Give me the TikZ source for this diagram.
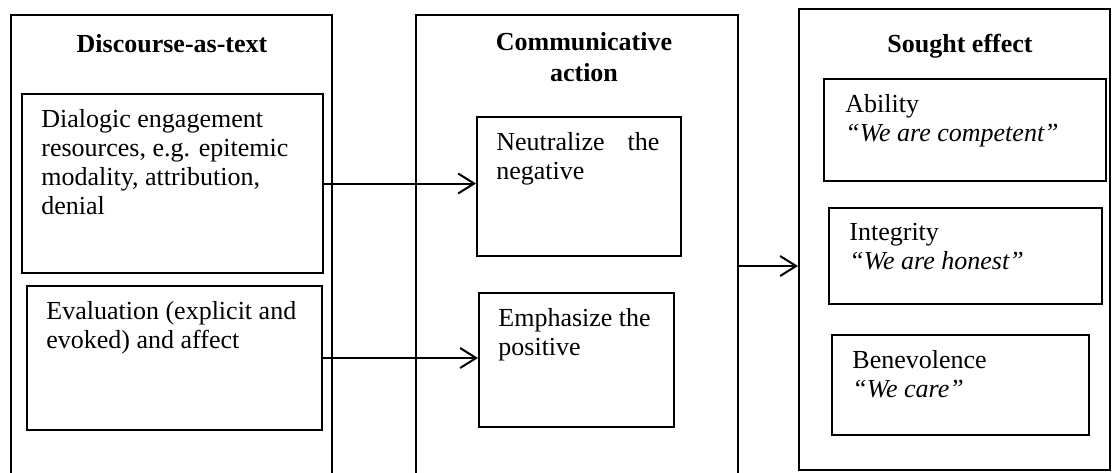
\documentclass[tikz,border=0pt]{standalone}
\usepackage{fontspec}
\setmainfont{Liberation Serif}
\usetikzlibrary{arrows.meta,positioning,fit}

\begin{document}
\begin{tikzpicture}[
    x=0.5pt, y=-0.5pt,
    frame/.style={draw, line width=1pt, inner sep=0pt},
    body/.style={align=left, inner sep=0pt,
        font=\fontsize{13}{14.5}\selectfont},
    head/.style={anchor=north, align=center, inner sep=0pt,
        font=\fontsize{13}{15.5}\selectfont\bfseries},
    link/.style={-{Straight Barb[length=8pt, width=10pt]}, line width=1pt}
]
    \useasboundingbox (0,0) rectangle (1112,472);
    \clip (0,0) rectangle (1112,472);

    % the three columns
    \node[frame, fit={(11,15) (332,490)}] (discourse) {};
    \node[frame, fit={(416,15) (738,490)}] (action) {};
    \node[frame, fit={(799,9) (1110,470)}] (effect) {};

    \node[head] (discourseT) at (172,34) {Discourse-as-text};
    \node[head] (actionT) at (584,32) {Communicative\\action};
    \node[head] (effectT) at (960,34) {Sought effect};

    % discourse boxes
    \node[frame, fit={(22,94) (323,273)}] (dialog) {};
    \node[body, below right=8pt and 10pt of dialog.north west] (dialogT)
        {Dialogic engagement\\resources, e.g. epitemic\\modality, attribution,\\denial};
    \node[frame, fit={(27,286) (322,430)}] (eval) {};
    \node[body, below right=8pt and 10pt of eval.north west] (evalT)
        {Evaluation (explicit and\\evoked) and affect};

    % action boxes
    \node[frame, fit={(477,117) (681,256)}] (neutral) {};
    \node[body, text width=81.5pt, below right=8pt and 10pt of neutral.north west] (neutralT)
        {Neutralize\hfill the\\negative};
    \node[frame, fit={(479,293) (674,427)}] (emph) {};
    \node[body, below right=8pt and 10pt of emph.north west] (emphT)
        {Emphasize the\\positive};

    % effect boxes
    \node[frame, fit={(824,79) (1106,181)}] (ability) {};
    \node[body, below right=8pt and 11pt of ability.north west] (abilityT)
        {Ability\\\textit{“We are competent”}};
    \node[frame, fit={(829,208) (1102,304)}] (integrity) {};
    \node[body, below right=8pt and 10.5pt of integrity.north west] (integrityT)
        {Integrity\\\textit{“We are honest”}};
    \node[frame, fit={(832,335) (1089,435)}] (benev) {};
    \node[body, below right=8pt and 10.5pt of benev.north west] (benevT)
        {Benevolence\\\textit{“We care”}};

    \coordinate (join) at (768,266);

    \draw[link] (dialog.east) -- (dialog.east -| neutral.west);
    \draw[link] (eval.east) -- (eval.east -| emph.west);
    \draw[link] (join -| action.east) -- (join -| effect.west);
\end{tikzpicture}
\end{document}
